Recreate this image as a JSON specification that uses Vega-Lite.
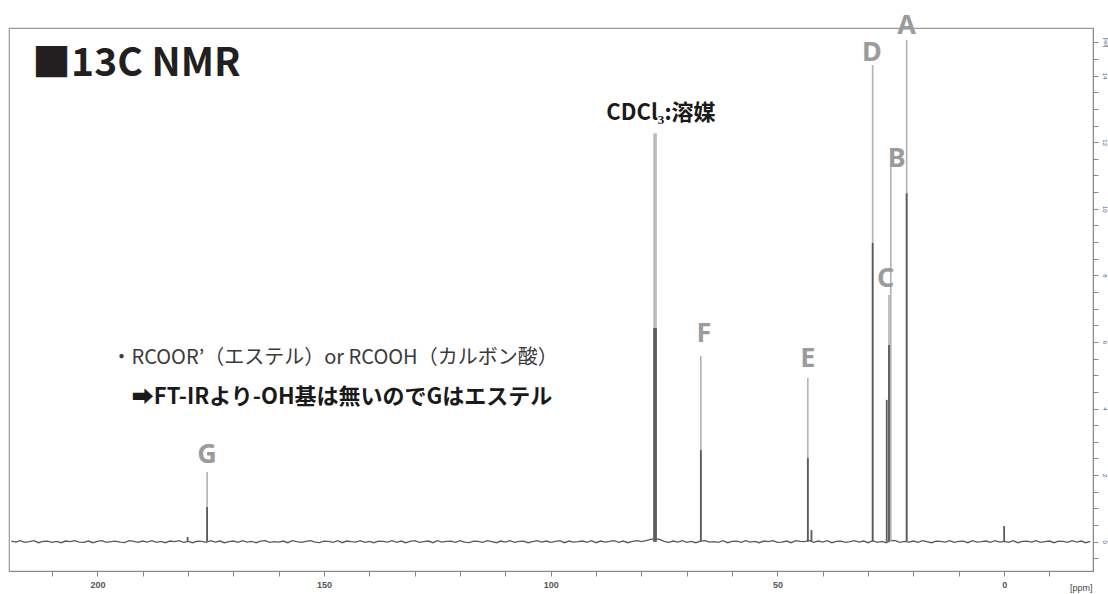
{
  "$schema": "https://vega.github.io/schema/vega-lite/v6.json",
  "width": 1084,
  "height": 543,
  "autosize": {"type": "none"},
  "padding": {"left": 9, "top": 28, "right": 15, "bottom": 23},
  "background": "white",
  "config": {"view": {"stroke": "#9a9a9a", "strokeWidth": 1.2}},
  "encoding": {
    "x": {
      "field": "ppm", "type": "quantitative",
      "scale": {"domain": [-19.6, 219.5], "reverse": true, "nice": false, "zero": false},
      "axis": {
        "title": "[ppm]", "titleX": 1083, "titleAlign": "right", "titleAngle": 0, "titleFontSize": 9, "titleFontWeight": "normal",
        "titleColor": "#444", "titleFont": "Liberation Sans", "titleY": 16, "titleBaseline": "middle",
        "values": [210, 200, 190, 180, 170, 160, 150, 140, 130, 120, 110, 100, 90, 80, 70, 60, 50, 40, 30, 20, 10, 0, -10],
        "labelExpr": "datum.value % 50 === 0 ? datum.label : ''",
        "labelFont": "Liberation Sans", "labelFontSize": 9, "labelFontWeight": "bold", "labelColor": "#555",
        "labelPadding": 4, "tickSize": 5, "tickColor": "#888", "domainColor": "#888", "grid": false,
        "labelFlush": false, "labelOverlap": false
      }
    },
    "y": {
      "field": "v", "type": "quantitative",
      "scale": {"domain": [-0.88, 15.43], "nice": false, "zero": false},
      "axis": {
        "orient": "right", "title": "[rel]", "titleFontSize": 6, "titleColor": "#555", "titleAngle": 90,
        "titleX": 12, "titleY": 14, "titleAlign": "center", "titleBaseline": "middle", "titleFontWeight": "normal",
        "titleFont": "Liberation Sans", "format": "~r",
        "values": [-0.5, 0, 0.5, 1, 1.5, 2, 2.5, 3, 3.5, 4, 4.5, 5, 5.5, 6, 6.5, 7, 7.5, 8, 8.5, 9, 9.5, 10, 10.5, 11, 11.5, 12, 12.5, 13, 13.5, 14, 14.5, 15],
        "labelExpr": "datum.value % 2 === 0 && datum.value >= 0 ? datum.label : ''",
        "labelAngle": 90, "labelFontSize": 6, "labelColor": "#555", "labelFont": "Liberation Sans",
        "labelPadding": 6, "tickSize": 5, "tickColor": "#888", "domainColor": "#888", "grid": false,
        "labelFlush": false, "labelOverlap": false, "labelAlign": "center", "labelBaseline": "middle"
      }
    }
  },
  "layer": [
    {
      "data": {"values": [
        {"ppm":219,"v":0.02},{"ppm":218,"v":-0.01},{"ppm":217,"v":0.03},{"ppm":216,"v":-0.02},{"ppm":215,"v":0.0},{"ppm":214,"v":0.03},{"ppm":213,"v":-0.03},{"ppm":212,"v":0.01},{"ppm":211,"v":0.02},{"ppm":210,"v":-0.02},
        {"ppm":209,"v":0.01},{"ppm":208,"v":-0.03},{"ppm":207,"v":0.02},{"ppm":206,"v":0.0},{"ppm":205,"v":0.03},{"ppm":204,"v":-0.01},{"ppm":203,"v":-0.02},{"ppm":202,"v":0.02},{"ppm":201,"v":-0.03},{"ppm":200,"v":0.01},
        {"ppm":199,"v":0.03},{"ppm":198,"v":-0.02},{"ppm":197,"v":0.0},{"ppm":196,"v":0.02},{"ppm":195,"v":-0.01},{"ppm":194,"v":-0.03},{"ppm":193,"v":0.03},{"ppm":192,"v":0.01},{"ppm":191,"v":-0.02},{"ppm":190,"v":0.02},
        {"ppm":189,"v":-0.01},{"ppm":188,"v":0.03},{"ppm":187,"v":-0.02},{"ppm":186,"v":0.01},{"ppm":185,"v":-0.03},{"ppm":184,"v":0.02},{"ppm":183,"v":0.0},{"ppm":182,"v":0.03},{"ppm":181,"v":-0.02},{"ppm":180,"v":0.01},
        {"ppm":179,"v":-0.03},{"ppm":178,"v":0.02},{"ppm":177,"v":0.01},{"ppm":176,"v":-0.02},{"ppm":175,"v":0.03},{"ppm":174,"v":-0.01},{"ppm":173,"v":0.02},{"ppm":172,"v":-0.03},{"ppm":171,"v":0.0},{"ppm":170,"v":0.02},
        {"ppm":169,"v":-0.02},{"ppm":168,"v":0.03},{"ppm":167,"v":-0.01},{"ppm":166,"v":0.01},{"ppm":165,"v":-0.03},{"ppm":164,"v":0.02},{"ppm":163,"v":0.03},{"ppm":162,"v":-0.02},{"ppm":161,"v":0.0},{"ppm":160,"v":-0.01},
        {"ppm":159,"v":0.02},{"ppm":158,"v":-0.03},{"ppm":157,"v":0.03},{"ppm":156,"v":0.0},{"ppm":155,"v":-0.02},{"ppm":154,"v":0.01},{"ppm":153,"v":0.03},{"ppm":152,"v":-0.01},{"ppm":151,"v":-0.03},{"ppm":150,"v":0.02},
        {"ppm":149,"v":0.01},{"ppm":148,"v":-0.02},{"ppm":147,"v":0.03},{"ppm":146,"v":-0.03},{"ppm":145,"v":0.02},{"ppm":144,"v":0.0},{"ppm":143,"v":-0.01},{"ppm":142,"v":0.03},{"ppm":141,"v":-0.02},{"ppm":140,"v":0.01},
        {"ppm":139,"v":-0.03},{"ppm":138,"v":0.02},{"ppm":137,"v":0.01},{"ppm":136,"v":-0.01},{"ppm":135,"v":0.03},{"ppm":134,"v":-0.02},{"ppm":133,"v":0.02},{"ppm":132,"v":-0.03},{"ppm":131,"v":0.01},{"ppm":130,"v":0.03},
        {"ppm":129,"v":-0.02},{"ppm":128,"v":0.0},{"ppm":127,"v":0.02},{"ppm":126,"v":-0.03},{"ppm":125,"v":0.03},{"ppm":124,"v":-0.01},{"ppm":123,"v":0.01},{"ppm":122,"v":0.02},{"ppm":121,"v":-0.02},{"ppm":120,"v":0.03},
        {"ppm":119,"v":-0.01},{"ppm":118,"v":-0.03},{"ppm":117,"v":0.02},{"ppm":116,"v":0.01},{"ppm":115,"v":-0.02},{"ppm":114,"v":0.03},{"ppm":113,"v":0.0},{"ppm":112,"v":-0.03},{"ppm":111,"v":0.02},{"ppm":110,"v":-0.01},
        {"ppm":109,"v":0.03},{"ppm":108,"v":-0.02},{"ppm":107,"v":0.01},{"ppm":106,"v":0.02},{"ppm":105,"v":-0.03},{"ppm":104,"v":0.0},{"ppm":103,"v":0.03},{"ppm":102,"v":-0.01},{"ppm":101,"v":0.02},{"ppm":100,"v":-0.02},
        {"ppm":99,"v":0.01},{"ppm":98,"v":0.03},{"ppm":97,"v":-0.03},{"ppm":96,"v":0.02},{"ppm":95,"v":-0.01},{"ppm":94,"v":0.0},{"ppm":93,"v":0.02},{"ppm":92,"v":-0.02},{"ppm":91,"v":0.03},{"ppm":90,"v":-0.03},
        {"ppm":89,"v":0.02},{"ppm":88,"v":-0.01},{"ppm":87,"v":0.01},{"ppm":86,"v":0.03},{"ppm":85,"v":-0.02},{"ppm":84,"v":0.02},{"ppm":83,"v":-0.03},{"ppm":82,"v":0.01},{"ppm":81,"v":0.03},{"ppm":80,"v":0.0},
        {"ppm":79,"v":0.03},{"ppm":78,"v":0.07},{"ppm":77,"v":0.09},{"ppm":76,"v":0.07},{"ppm":75,"v":0.01},{"ppm":74,"v":-0.02},{"ppm":73,"v":0.02},{"ppm":72,"v":-0.01},{"ppm":71,"v":0.03},{"ppm":70,"v":-0.02},
        {"ppm":69,"v":0.01},{"ppm":68,"v":-0.03},{"ppm":67,"v":0.02},{"ppm":66,"v":0.03},{"ppm":65,"v":-0.01},{"ppm":64,"v":0.0},{"ppm":63,"v":-0.02},{"ppm":62,"v":0.03},{"ppm":61,"v":-0.03},{"ppm":60,"v":0.01},
        {"ppm":59,"v":0.02},{"ppm":58,"v":-0.02},{"ppm":57,"v":0.03},{"ppm":56,"v":-0.01},{"ppm":55,"v":0.01},{"ppm":54,"v":-0.03},{"ppm":53,"v":0.02},{"ppm":52,"v":0.0},{"ppm":51,"v":0.03},{"ppm":50,"v":-0.02},
        {"ppm":49,"v":-0.01},{"ppm":48,"v":0.02},{"ppm":47,"v":-0.03},{"ppm":46,"v":0.03},{"ppm":45,"v":0.01},{"ppm":44,"v":0.0},{"ppm":43,"v":0.04},{"ppm":42,"v":-0.02},{"ppm":41,"v":0.02},{"ppm":40,"v":-0.01},
        {"ppm":39,"v":0.03},{"ppm":38,"v":-0.03},{"ppm":37,"v":0.01},{"ppm":36,"v":0.02},{"ppm":35,"v":-0.02},{"ppm":34,"v":0.0},{"ppm":33,"v":0.03},{"ppm":32,"v":-0.01},{"ppm":31,"v":0.02},{"ppm":30,"v":-0.03},
        {"ppm":29,"v":0.03},{"ppm":28,"v":-0.02},{"ppm":27,"v":0.01},{"ppm":26,"v":-0.03},{"ppm":25,"v":0.04},{"ppm":24,"v":0.03},{"ppm":23,"v":-0.02},{"ppm":22,"v":0.01},{"ppm":21,"v":-0.01},{"ppm":20,"v":0.02},
        {"ppm":19,"v":-0.02},{"ppm":18,"v":0.03},{"ppm":17,"v":0.0},{"ppm":16,"v":-0.03},{"ppm":15,"v":0.02},{"ppm":14,"v":0.01},{"ppm":13,"v":-0.01},{"ppm":12,"v":0.03},{"ppm":11,"v":-0.02},{"ppm":10,"v":0.01},
        {"ppm":9,"v":0.02},{"ppm":8,"v":-0.03},{"ppm":7,"v":0.03},{"ppm":6,"v":-0.01},{"ppm":5,"v":0.0},{"ppm":4,"v":0.02},{"ppm":3,"v":-0.02},{"ppm":2,"v":0.03},{"ppm":1,"v":-0.01},{"ppm":0,"v":0.01},
        {"ppm":-1,"v":-0.02},{"ppm":-2,"v":0.03},{"ppm":-3,"v":-0.03},{"ppm":-4,"v":0.01},{"ppm":-5,"v":0.02},{"ppm":-6,"v":-0.01},{"ppm":-7,"v":0.03},{"ppm":-8,"v":-0.02},{"ppm":-9,"v":0.0},{"ppm":-10,"v":0.02},
        {"ppm":-11,"v":-0.03},{"ppm":-12,"v":0.02},{"ppm":-13,"v":0.01},{"ppm":-14,"v":-0.02},{"ppm":-15,"v":0.03},{"ppm":-16,"v":-0.01},{"ppm":-17,"v":0.02},{"ppm":-18,"v":-0.03},{"ppm":-19,"v":0.01}
      ]},
      "mark": {"type": "line", "color": "#5a5a5a", "strokeWidth": 1.3}
    },
    {
      "data": {"values": [
        {"peak":"G","ppm":175.8,"v":2.09},
        {"peak":"CDCl3","ppm":77.2,"v":12.27},
        {"peak":"CDCl3","ppm":76.8,"v":12.27},
        {"peak":"F","ppm":66.9,"v":5.58},
        {"peak":"E","ppm":43.3,"v":4.92},
        {"peak":"D","ppm":29.0,"v":14.32},
        {"peak":"C","ppm":25.4,"v":7.41},
        {"peak":"B","ppm":25.0,"v":11.26},
        {"peak":"A","ppm":21.5,"v":15.07}
      ]},
      "mark": {"type": "rule", "color": "#b3b3b3", "strokeWidth": 1.6},
      "encoding": {"y2": {"datum": 0}}
    },
    {
      "data": {"values": [
        {"peak":"small","ppm":180.1,"v":0.14},
        {"peak":"G","ppm":175.8,"v":1.04},
        {"peak":"CDCl3","ppm":77.2,"v":6.42},
        {"peak":"CDCl3","ppm":76.8,"v":6.42},
        {"peak":"F","ppm":66.9,"v":2.75},
        {"peak":"E","ppm":43.3,"v":2.51},
        {"peak":"small","ppm":42.5,"v":0.35},
        {"peak":"D","ppm":29.0,"v":8.97},
        {"peak":"C","ppm":25.9,"v":4.26},
        {"peak":"C","ppm":25.4,"v":5.91},
        {"peak":"A","ppm":21.5,"v":10.47},
        {"peak":"TMS","ppm":0.0,"v":0.47}
      ]},
      "mark": {"type": "rule", "color": "#5a5a5a", "strokeWidth": 1.8},
      "encoding": {"y2": {"datum": 0}}
    },
    {
      "data": {"values": [
        {"t":"A","ppm":21.5,"v":15.25},
        {"t":"D","ppm":29.2,"v":14.43},
        {"t":"B","ppm":23.7,"v":11.26},
        {"t":"C","ppm":26.15,"v":7.65},
        {"t":"E","ppm":43.3,"v":5.25},
        {"t":"F","ppm":66.2,"v":6.0},
        {"t":"G","ppm":175.8,"v":2.36}
      ]},
      "mark": {"type": "text", "font": "Noto Sans", "fontSize": 27, "fontWeight": "bold", "color": "#9b9b9b", "align": "center", "baseline": "alphabetic"},
      "encoding": {"text": {"field": "t"}}
    },
    {
      "data": {"values": [{"t":"■13C NMR","ppm":214.4,"v":14.0}]},
      "mark": {"type": "text", "font": "Noto Sans CJK JP", "fontSize": 39, "fontWeight": "bold", "color": "#231f20", "align": "left", "baseline": "alphabetic"},
      "encoding": {"text": {"field": "t"}}
    },
    {
      "data": {"values": [{"t":"CDCl₃:溶媒","ppm":75.7,"v":12.66}]},
      "mark": {"type": "text", "font": "Noto Sans CJK JP", "fontSize": 22, "fontWeight": "bold", "color": "#1a1a1a", "align": "center", "baseline": "alphabetic"},
      "encoding": {"text": {"field": "t"}}
    },
    {
      "data": {"values": [{"t":"・RCOOR’（エステル）or RCOOH（カルボン酸）","ppm":196.9,"v":5.33}]},
      "mark": {"type": "text", "font": "Noto Sans CJK JP", "fontSize": 20, "fontWeight": "normal", "color": "#3a3a3a", "align": "left", "baseline": "alphabetic"},
      "encoding": {"text": {"field": "t"}}
    },
    {
      "data": {"values": [{"t":"➡FT-IRより-OH基は無いのでGはエステル","ppm":192.4,"v":4.14}]},
      "mark": {"type": "text", "font": "Noto Sans CJK JP", "fontSize": 22, "fontWeight": "bold", "color": "#1a1a1a", "align": "left", "baseline": "alphabetic"},
      "encoding": {"text": {"field": "t"}}
    }
  ]
}
